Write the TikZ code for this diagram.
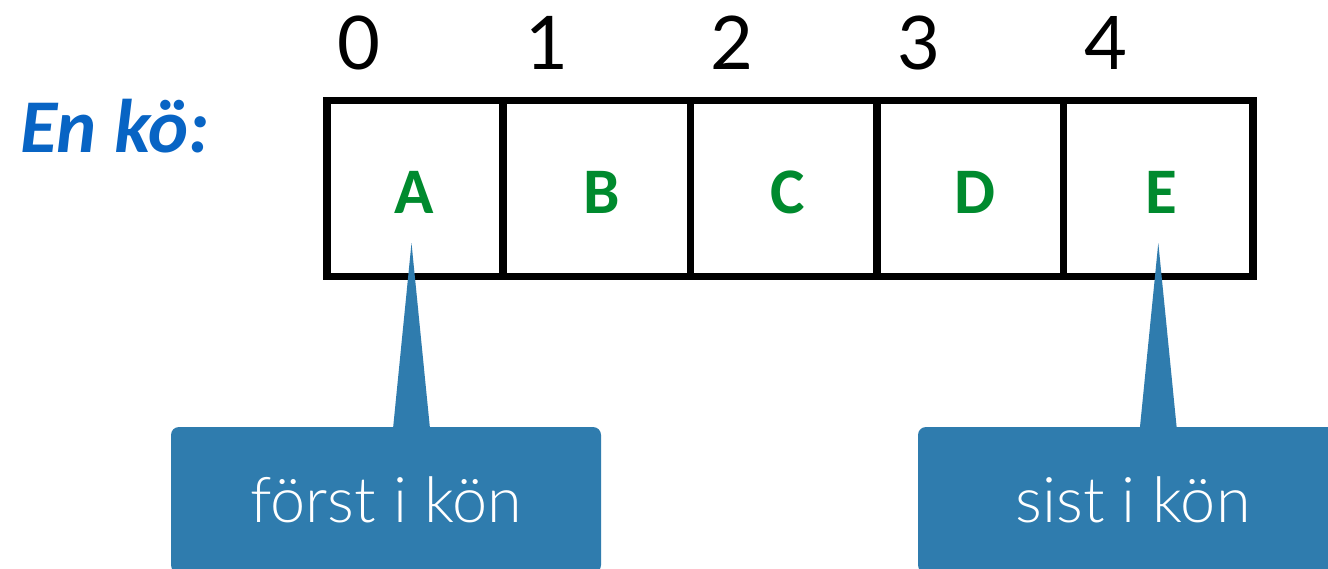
\documentclass[tikz,border=0pt]{standalone}
\usepackage{fontspec}
\setmainfont{Carlito}
\newfontfamily\digitfont{Lato}
\newfontfamily\calloutfont{Lato Light}
\usetikzlibrary{calc}
\definecolor{titleblue}{RGB}{8,100,196}
\definecolor{itemgreen}{RGB}{0,138,46}
\definecolor{calloutblue}{RGB}{47,124,174}
\tikzset{
  cell/.style={draw=black, line width=7.5pt, minimum height=176pt,
    inner sep=0pt},
  item/.style={anchor=base, inner sep=0pt, text=itemgreen,
    font=\fontsize{65}{65}\selectfont\bfseries},
  index/.style={anchor=base, inner sep=0pt, font=\fontsize{74}{74}\digitfont},
  callout/.style={fill=calloutblue, rounded corners=8pt, minimum width=430pt,
    minimum height=146pt, inner sep=0pt, text=white,
    font=\fontsize{63}{63}\calloutfont},
  pointer/.style={fill=calloutblue},
}
\begin{document}
\begin{tikzpicture}[x=1pt,y=-1pt]
\useasboundingbox (0,0) rectangle (1328,568);
\fill[white] (0,0) rectangle (1328,568);
\clip (0,0) rectangle (1328,568);

% heading
\node[anchor=base west, inner sep=0pt, text=titleblue,
      font=\fontsize{76}{76}\selectfont\bfseries\itshape] (title) at (20,152) {En kö:};

% queue cells
\node[cell, minimum width=176pt]   (c0) at (415,188.5)    {};
\node[cell, minimum width=187.5pt] (c1) at (596.75,188.5) {};
\node[cell, minimum width=186.5pt] (c2) at (783.75,188.5) {};
\node[cell, minimum width=186.5pt] (c3) at (970.25,188.5) {};
\node[cell, minimum width=189.5pt] (c4) at (1158.25,188.5) {};

% cell contents
\node[item] (a) at (414.5,213) {A};
\node[item] (b) at (601.5,213) {B};
\node[item] (c) at (787.5,213) {C};
\node[item] (d) at (974.5,213) {D};
\node[item] (e) at (1161,213)  {E};

% indices
\node[index] (i0) at (359,69)  {0};
\node[index] (i1) at (547,69)  {1};
\node[index] (i2) at (732,69)  {2};
\node[index] (i3) at (919,69)  {3};
\node[index] (i4) at (1106,69) {4};

% callouts
\node[callout] (first) at (386,500)  {först i kön};
\node[callout] (last)  at (1133,500) {sist i kön};

\coordinate (tipA) at (411.5,243);
\coordinate (tipE) at (1158.3,243);

\fill[pointer] ($(first.north -| tipA)+(-18.5,2)$) -- (tipA)
  -- ($(first.north -| tipA)+(18.5,2)$) -- cycle;
\fill[pointer] ($(last.north -| tipE)+(-18.5,2)$) -- (tipE)
  -- ($(last.north -| tipE)+(18.5,2)$) -- cycle;
\end{tikzpicture}
\end{document}
